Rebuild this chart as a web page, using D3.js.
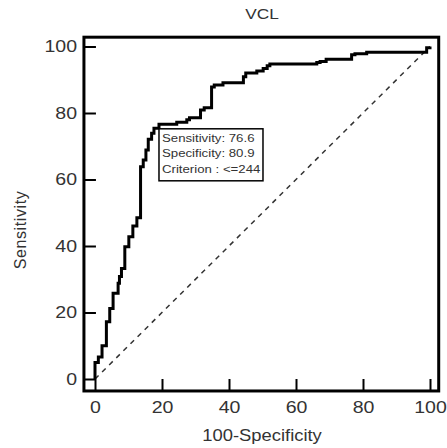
<!DOCTYPE html>
<html>
<head>
<meta charset="utf-8">
<script src="https://cdn.jsdelivr.net/npm/d3@7"></script>
<style>
body { margin: 0; background: #fff; }
text { font-family: "Liberation Sans", Arial, sans-serif; fill: #333; }
</style>
</head>
<body>
<div id="chart"></div>
<script>
// ROC curve points (100-Specificity, Sensitivity)
var fpr  = [0, 0, 1.0, 2.1, 3.4, 4.4, 5.4, 6.9, 7.3, 7.9, 8.9, 10.1, 11.3, 12.5, 13.6, 14.4, 15.2, 15.9, 16.9, 17.6, 19.1,
            24.4, 27.4, 28.2, 31.5, 32.6, 34.8, 35.6, 38.2, 44.3, 45.0, 48.3, 50.2, 51.4, 52.2, 66.2, 67.2, 69.0, 76.6, 77.6, 81.1, 99.0, 100];
var sens = [0, 5.0, 6.6, 10.0, 17.2, 21.2, 25.8, 28.8, 30.8, 33.2, 39.8, 42.8, 46.0, 48.5, 63.8, 65.9, 68.9, 72.1, 73.9, 75.4, 76.6,
            77.2, 78.0, 78.6, 80.9, 81.6, 87.8, 88.4, 89.1, 90.9, 92.0, 92.6, 93.4, 94.2, 94.7, 95.2, 95.5, 96.2, 97.5, 97.8, 98.3, 99.6, 100];

var majorTicks = [0, 20, 40, 60, 80, 100];
var minorTicks = [5, 10, 15, 25, 30, 35, 45, 50, 55, 65, 70, 75, 85, 90, 95];

var cutoff = {x: 19.1, y: 76.6};
var boxLines = ["Sensitivity: 76.6", "Specificity: 80.9", "Criterion : <=244"];

var title = "VCL", xTitle = "100-Specificity", yTitle = "Sensitivity";

var W = 447, H = 448;
var svg = d3.select("#chart").append("svg").attr("width", W).attr("height", H);

var x = d3.scaleLinear().domain([0, 100]).range([95, 430]);
var y = d3.scaleLinear().domain([0, 100]).range([379, 46.5]);
var xLim = [-3.3, 102.6], yLim = [-3.6, 102.8];
var stretch = "scale(1.15,1)";

// diagonal reference line
svg.append("line")
    .attr("x1", x(0)).attr("y1", y(0))
    .attr("x2", x(100)).attr("y2", y(100))
    .attr("stroke", "#333").attr("stroke-width", 1.5)
    .attr("stroke-dasharray", "5,5");

// axes, ticks pointing inwards
var gx = svg.append("g").attr("transform", "translate(0," + y(yLim[0]) + ")");
gx.call(d3.axisBottom(x).tickValues(minorTicks).tickSize(-7).tickFormat(""));
gx.call(d3.axisBottom(x).tickValues(majorTicks).tickSize(-12).tickPadding(10));

var gy = svg.append("g").attr("transform", "translate(" + x(xLim[0]) + ",0)");
gy.call(d3.axisLeft(y).tickValues(minorTicks).tickSize(-7).tickFormat(""));
gy.call(d3.axisLeft(y).tickValues(majorTicks).tickSize(-12).tickPadding(6));

svg.selectAll(".domain").remove();
svg.selectAll(".tick line").attr("stroke", "#000").attr("stroke-width", 2);
svg.selectAll(".tick text")
    .attr("font-size", 17)
    .attr("font-family", "'Liberation Sans', Arial, sans-serif")
    .attr("fill", "#333")
    .attr("transform", stretch);

// ROC curve
var pts = fpr.map(function(d, i) { return [d, sens[i]]; });
svg.append("path")
    .datum(pts)
    .attr("fill", "none")
    .attr("stroke", "#000")
    .attr("stroke-width", 3)
    .attr("d", d3.line().x(d => x(d[0])).y(d => y(d[1])).curve(d3.curveStepAfter));

// frame
svg.append("rect")
    .attr("x", x(xLim[0])).attr("y", y(yLim[1]))
    .attr("width", x(xLim[1]) - x(xLim[0]))
    .attr("height", y(yLim[0]) - y(yLim[1]))
    .attr("fill", "none").attr("stroke", "#000").attr("stroke-width", 3);

// criterion box
var bx = x(cutoff.x), by = y(cutoff.y) + 4.5;
var box = svg.append("g").attr("transform", "translate(" + bx + "," + by + ")");
box.append("rect")
    .attr("width", 104).attr("height", 52)
    .attr("fill", "#fff").attr("stroke", "#000").attr("stroke-width", 1.5);
box.selectAll("text.info").data(boxLines).enter().append("text")
    .attr("class", "info")
    .attr("transform", (d, i) => "translate(3," + (13 + i * 15.5) + ") " + stretch)
    .attr("font-size", 11.5)
    .text(d => d);

// titles
svg.append("text")
    .attr("transform", "translate(262,19) " + stretch)
    .attr("text-anchor", "middle").attr("font-size", 15)
    .text(title);
svg.append("text")
    .attr("transform", "translate(262,441) " + stretch)
    .attr("text-anchor", "middle").attr("font-size", 16)
    .text(xTitle);
svg.append("text")
    .attr("transform", "translate(26,230) rotate(-90)")
    .attr("text-anchor", "middle").attr("font-size", 16)
    .attr("letter-spacing", 0.6)
    .text(yTitle);
</script>
</body>
</html>
